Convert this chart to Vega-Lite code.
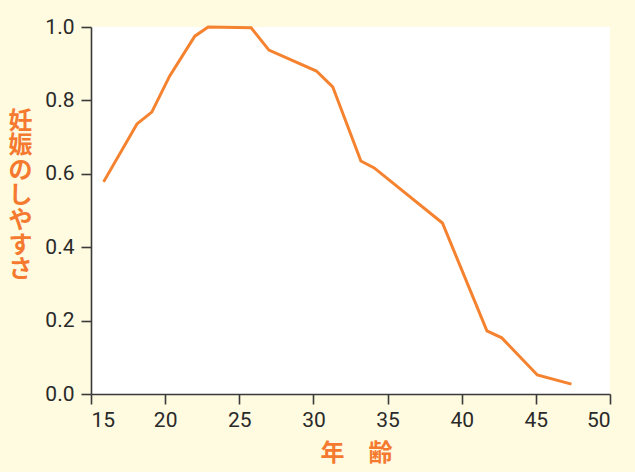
{
  "$schema": "https://vega.github.io/schema/vega-lite/v6.json",
  "width": 519,
  "height": 367,
  "autosize": {"type": "none"},
  "padding": {"left": 91, "top": 27, "right": 25, "bottom": 78},
  "background": "#fefbe0",
  "config": {
    "view": {"fill": "#ffffff", "stroke": null},
    "axis": {
      "labelFont": "Roboto",
      "labelFontSize": 21,
      "labelColor": "#2a2a2a",
      "domainColor": "#3a3a3a",
      "domainWidth": 1.6,
      "tickColor": "#3a3a3a",
      "tickWidth": 1.6,
      "tickSize": 10,
      "grid": false,
      "titleFont": "Noto Sans CJK JP",
      "titleFontWeight": "bold",
      "titleFontSize": 24,
      "titleColor": "#f57a30"
    }
  },
  "data": {
    "values": [
      {"age": 15.85, "p": 0.578},
      {"age": 18.1, "p": 0.736},
      {"age": 19.1, "p": 0.768},
      {"age": 20.3, "p": 0.866},
      {"age": 22.0, "p": 0.975},
      {"age": 22.9, "p": 1.0},
      {"age": 25.8, "p": 0.998},
      {"age": 27.0, "p": 0.937},
      {"age": 30.2, "p": 0.880},
      {"age": 31.3, "p": 0.837},
      {"age": 33.2, "p": 0.635},
      {"age": 34.1, "p": 0.616},
      {"age": 38.7, "p": 0.466},
      {"age": 41.7, "p": 0.172},
      {"age": 42.7, "p": 0.153},
      {"age": 45.1, "p": 0.052},
      {"age": 47.4, "p": 0.027}
    ]
  },
  "mark": {"type": "line", "color": "#f5822f", "strokeWidth": 3},
  "encoding": {
    "x": {
      "field": "age",
      "type": "quantitative",
      "scale": {"domain": [15, 50], "nice": false, "zero": false},
      "axis": {
        "values": [15, 20, 25, 30, 35, 40, 45, 50],
        "labelPadding": 5,
        "title": "年　齢",
        "titleX": 265,
        "titleY": 59,
        "titleBaseline": "middle",
        "titleAlign": "center"
      }
    },
    "y": {
      "field": "p",
      "type": "quantitative",
      "scale": {"domain": [0, 1], "nice": false},
      "axis": {
        "values": [0, 0.2, 0.4, 0.6, 0.8, 1.0],
        "format": ".1f",
        "labelPadding": 7,
        "title": ["妊", "娠", "の", "し", "や", "す", "さ"],
        "titleAngle": 0,
        "titleX": -71,
        "titleY": 94,
        "titleAlign": "center",
        "titleBaseline": "middle",
        "titleLineHeight": 24.8
      }
    }
  }
}
